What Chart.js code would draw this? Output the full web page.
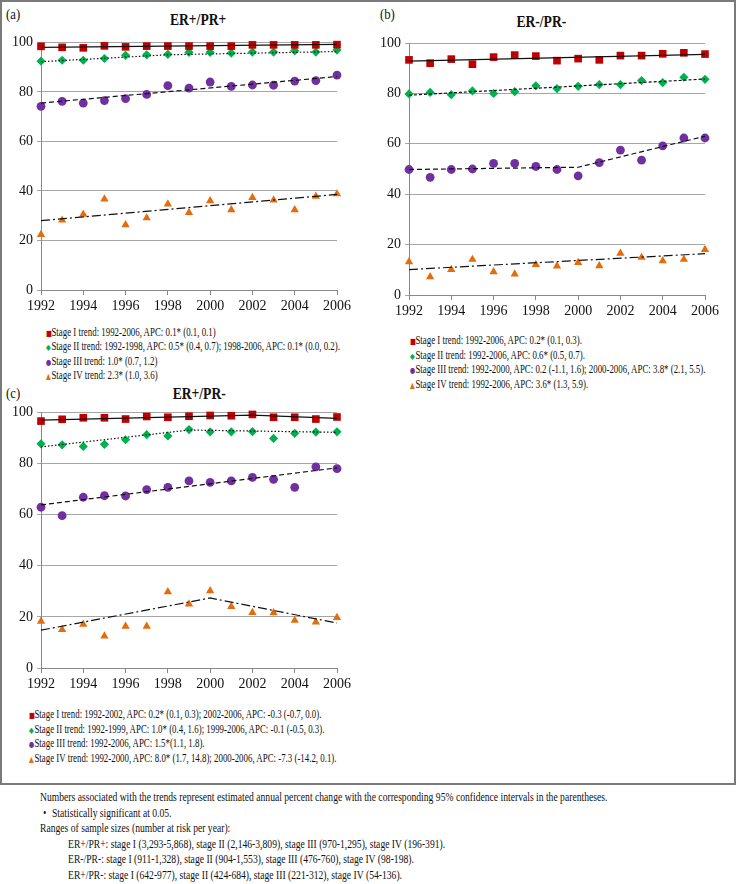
<!DOCTYPE html>
<html>
<head>
<meta charset="utf-8">
<script src="https://cdn.jsdelivr.net/npm/chart.js@4.4.1/dist/chart.umd.min.js"></script>
<style>
body { margin: 0; background: #fff; }
#page { position: relative; width: 737px; height: 884px; font-family: "Liberation Serif", "Times New Roman", "DejaVu Serif", serif; color: #111; }
#frame { position: absolute; left: 0; top: 0; width: 736px; height: 785px; box-sizing: border-box; border: 2px solid #7a7a7a; }
canvas { position: absolute; }
.t { position: absolute; white-space: nowrap; transform-origin: left center; line-height: 14px; }
.lg { font-size: 11.5px; transform: scaleX(0.77); }
.fn { font-size: 12.5px; transform: scaleX(0.77); line-height: 16px; }
.ttl { font-size: 16px; font-weight: bold; transform: scaleX(0.85); transform-origin: center center; line-height: 18px; }
.pl { font-size: 15px; transform: scaleX(0.85); line-height: 18px; }
.mk { display: inline-block; width: 7px; font-family: "DejaVu Sans"; font-size: 8px; }
</style>
</head>
<body>
<div id="page">
  <div id="frame"></div>

  <div class="t pl" style="left:6px;top:5px">(a)</div>
  <div class="t ttl" style="left:165px;top:11px">ER+/PR+</div>
  <canvas id="chartA" width="354" height="292" style="left:0;top:30px"></canvas>
  <div id="legendA"></div>

  <div class="t pl" style="left:380px;top:5px">(b)</div>
  <div class="t ttl" style="left:512px;top:13px">ER-/PR-</div>
  <canvas id="chartB" width="354" height="297" style="left:368px;top:30px"></canvas>
  <div id="legendB"></div>

  <div class="t pl" style="left:6px;top:384px">(c)</div>
  <div class="t ttl" style="left:168px;top:385px">ER+/PR-</div>
  <canvas id="chartC" width="354" height="300" style="left:0;top:400px"></canvas>
  <div id="legendC"></div>

  <div id="notes"></div>
</div>

<script>
// years on the x axis
const years = [1992, 1993, 1994, 1995, 1996, 1997, 1998, 1999, 2000, 2001, 2002, 2003, 2004, 2005, 2006];
const yTicks = [0, 20, 40, 60, 80, 100];

// (a) ER+/PR+
const aStageI   = [98.4, 98.0, 97.8, 98.6, 98.2, 98.5, 98.5, 98.5, 98.5, 98.5, 99.0, 99.0, 99.0, 99.0, 99.1];
const aStageII  = [92.4, 92.8, 92.8, 93.5, 94.8, 95.0, 95.2, 96.0, 96.0, 95.7, 96.1, 96.1, 96.6, 96.1, 96.9];
const aStageIII = [74.2, 76.2, 75.5, 76.5, 77.3, 79.0, 82.5, 81.5, 84.0, 82.2, 82.8, 82.7, 84.4, 84.6, 86.8];
const aStageIV  = [22.4, 28.2, 30.6, 36.7, 26.3, 29.1, 34.7, 31.3, 36.0, 32.4, 37.3, 36.3, 32.4, 37.8, 38.8];
const aTrendI   = [[1992, 98.0], [2006, 99.2]];
const aTrendII  = [[1992, 92.2], [1998, 95.0], [2006, 96.3]];
const aTrendIII = [[1992, 75.5], [2006, 86.2]];
const aTrendIV  = [[1992, 28.0], [2006, 38.6]];
const aLegend = [
  'Stage I trend: 1992-2006, APC: 0.1* (0.1, 0.1)',
  'Stage II trend: 1992-1998, APC: 0.5* (0.4, 0.7); 1998-2006, APC: 0.1* (0.0, 0.2).',
  'Stage III trend: 1.0* (0.7, 1.2)',
  'Stage IV trend: 2.3* (1.0, 3.6)'
];

// (b) ER-/PR-
const bStageI   = [93.3, 92.0, 93.6, 91.6, 94.4, 95.2, 94.8, 93.0, 93.8, 93.3, 95.0, 95.0, 95.7, 96.1, 95.6];
const bStageII  = [79.8, 80.4, 79.5, 81.0, 80.0, 80.7, 83.0, 81.9, 82.8, 83.5, 83.5, 85.1, 84.3, 86.4, 85.6];
const bStageIII = [49.8, 46.7, 49.8, 50.0, 52.2, 52.2, 51.0, 49.8, 47.3, 52.5, 57.5, 53.5, 59.2, 62.3, 62.3];
const bStageIV  = [13.2, 7.2, 10.1, 14.1, 9.2, 8.3, 12.1, 11.5, 12.9, 11.6, 16.5, 14.9, 13.6, 14.1, 18.0];
const bTrendI   = [[1992, 92.8], [2006, 95.5]];
const bTrendII  = [[1992, 79.3], [2006, 85.7]];
const bTrendIII = [[1992, 49.8], [2000, 50.7], [2006, 63.0]];
const bTrendIV  = [[1992, 10.1], [2006, 16.4]];
const bLegend = [
  'Stage I trend: 1992-2006, APC: 0.2* (0.1, 0.3).',
  'Stage II trend: 1992-2006, APC: 0.6* (0.5, 0.7).',
  'Stage III trend: 1992-2000, APC: 0.2 (-1.1, 1.6); 2000-2006, APC: 3.8* (2.1, 5.5).',
  'Stage IV trend: 1992-2006, APC: 3.6* (1.3, 5.9).'
];

// (c) ER+/PR-
const cStageI   = [96.6, 97.3, 97.9, 97.9, 97.4, 98.4, 98.1, 98.5, 98.8, 98.7, 99.2, 98.1, 98.1, 97.4, 98.2];
const cStageII  = [87.7, 87.3, 86.7, 87.5, 89.3, 91.3, 90.8, 93.3, 92.4, 92.4, 92.5, 89.8, 91.8, 92.3, 92.4];
const cStageIII = [62.9, 59.6, 66.8, 67.4, 67.3, 69.8, 70.7, 73.2, 72.6, 73.2, 74.6, 73.8, 70.7, 78.7, 78.0];
const cStageIV  = [18.3, 15.0, 17.1, 12.5, 16.3, 16.3, 29.8, 25.0, 30.2, 24.0, 21.7, 21.6, 18.6, 18.0, 19.7];
const cTrendI   = [[1992, 97.0], [2002, 98.9], [2006, 97.7]];
const cTrendII  = [[1992, 86.5], [1999, 93.1], [2006, 92.2]];
const cTrendIII = [[1992, 63.8], [2006, 78.3]];
const cTrendIV  = [[1992, 14.8], [2000, 27.4], [2006, 17.6]];
const cLegend = [
  'Stage I trend: 1992-2002, APC: 0.2* (0.1, 0.3); 2002-2006, APC: -0.3 (-0.7, 0.0).',
  'Stage II trend:  1992-1999, APC: 1.0* (0.4, 1.6); 1999-2006, APC: -0.1 (-0.5, 0.3).',
  'Stage III trend: 1992-2006, APC: 1.5*(1.1, 1.8).',
  'Stage IV trend: 1992-2000, APC: 8.0* (1.7, 14.8); 2000-2006, APC: -7.3 (-14.2, 0.1).'
];

const notes = [
  'Numbers associated with the trends represent estimated annual percent change with the corresponding 95% confidence intervals in the parentheses.',
  'Statistically significant at 0.05.',
  'Ranges of sample sizes (number at risk per year):',
  'ER+/PR+: stage I (3,293-5,868), stage II (2,146-3,809), stage III (970-1,295), stage IV (196-391).',
  'ER-/PR-:  stage I (911-1,328), stage II (904-1,553), stage III (476-760), stage IV (98-198).',
  'ER+/PR-:  stage I (642-977), stage II (424-684), stage III (221-312), stage IV (54-136).'
];

const colors = ['#c00000', '#00b050', '#7030a0', '#e46c0a'];
const shapes = ['rect', 'rectRot', 'circle', 'triangle'];
const radii = [5.4, 4.6, 4.4, 4.8];
const legendGlyphs = ['\u25A0', '\u25C6', '\u25CF', '\u25B2'];
const tickFont = { family: '"Liberation Serif", "Times New Roman", "DejaVu Serif", serif', size: 14 };

function makeChart(id, stages, trends, dashes, padTop) {
    let datasets = [];
    trends.forEach((tr, i) => {
        datasets.push({
            data: tr.map(p => ({ x: p[0], y: p[1] })),
            showLine: true,
            borderColor: '#111',
            borderWidth: 1.2,
            borderDash: dashes[i],
            pointRadius: 0,
            clip: false
        });
    });
    stages.forEach((vals, i) => {
        datasets.push({
            data: vals.map((v, j) => ({ x: years[j], y: v })),
            showLine: false,
            pointStyle: shapes[i],
            pointRadius: radii[i],
            backgroundColor: colors[i],
            borderColor: colors[i],
            borderWidth: 0,
            clip: false
        });
    });

    return new Chart(document.getElementById(id), {
        type: 'scatter',
        data: { datasets: datasets },
        options: {
            responsive: false,
            animation: false,
            layout: { padding: { top: padTop, right: 16, bottom: 2, left: 0 } },
            plugins: { legend: { display: false }, tooltip: { enabled: false } },
            scales: {
                x: {
                    type: 'linear',
                    min: years[0],
                    max: years[years.length - 1],
                    ticks: {
                        stepSize: 2,
                        padding: 3,
                        color: '#111',
                        font: tickFont,
                        callback: v => String(v)
                    },
                    grid: { drawOnChartArea: false, tickLength: 5, color: '#888' },
                    border: { color: '#888' },
                    afterFit: s => { s.height = 30; }
                },
                y: {
                    min: yTicks[0],
                    max: yTicks[yTicks.length - 1],
                    afterBuildTicks: s => { s.ticks = yTicks.map(v => ({ value: v })); },
                    ticks: {
                        padding: 4,
                        color: '#111',
                        font: tickFont
                    },
                    grid: { color: '#a6a6a6', tickLength: 4 },
                    border: { color: '#888' },
                    afterFit: s => { s.width = 41; }
                }
            }
        }
    });
}

const dotted = [1.5, 2];
const dashed = [5, 3];
const dashDot = [9, 3, 2, 3];

makeChart('chartA', [aStageI, aStageII, aStageIII, aStageIV],
    [aTrendI, aTrendII, aTrendIII, aTrendIV], [[], dotted, dashed, dashDot], 11);
makeChart('chartB', [bStageI, bStageII, bStageIII, bStageIV],
    [bTrendI, bTrendII, bTrendIII, bTrendIV], [[], [3, 2], dashed, dashDot], 13);
makeChart('chartC', [cStageI, cStageII, cStageIII, cStageIV],
    [cTrendI, cTrendII, cTrendIII, cTrendIV], [[], dotted, dashed, dashDot], 11);

// legends under each panel, written as text
function addLegend(holderId, lines, left, firstCenter) {
    let holder = document.getElementById(holderId);
    lines.forEach((txt, i) => {
        let d = document.createElement('div');
        d.className = 't lg';
        d.style.left = left + 'px';
        d.style.top = (firstCenter + i * 14.6 - 7) + 'px';
        let m = document.createElement('span');
        m.className = 'mk';
        m.style.color = colors[i];
        m.textContent = legendGlyphs[i];
        d.appendChild(m);
        d.appendChild(document.createTextNode(txt));
        holder.appendChild(d);
    });
}
addLegend('legendA', aLegend, 46, 331.5);
addLegend('legendB', bLegend, 410, 340);
addLegend('legendC', cLegend, 29, 714);

// footnotes
let notesEl = document.getElementById('notes');
let noteLeft = [40, 52, 40, 68, 68, 68];
notes.forEach((txt, i) => {
    let d = document.createElement('div');
    d.className = 't fn';
    d.style.left = noteLeft[i] + 'px';
    d.style.top = (797 + i * 15.6 - 8) + 'px';
    d.textContent = txt;
    notesEl.appendChild(d);
    if (i == 1) {
        let b = document.createElement('div');
        b.className = 't fn';
        b.style.left = '43px';
        b.style.top = (797 + i * 15.6 - 8) + 'px';
        b.textContent = '\u2022';
        notesEl.appendChild(b);
    }
});
</script>
</body>
</html>
